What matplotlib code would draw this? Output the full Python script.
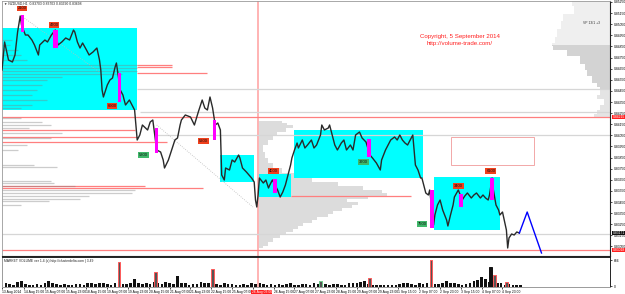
import matplotlib
matplotlib.use("Agg")
import matplotlib.pyplot as plt
import matplotlib.transforms as mtransforms
from matplotlib.patches import Rectangle

plt.rcParams["font.family"] = ["Liberation Sans", "DejaVu Sans"]

# H1 price path, hour index from 13 Aug 2014 23:00
hours = [0, 2, 5, 8, 10, 12, 14, 15, 18, 20, 23, 25, 28, 29, 33, 35, 38, 41, 43, 46,
         49, 52, 55, 56, 58, 60, 62, 65, 67, 70, 73, 75, 76, 77, 78, 81, 83, 85, 87, 88,
         91, 93, 95, 98, 100, 102, 104, 106, 108, 112, 114, 116, 119, 122, 124, 125, 128, 131, 133, 135,
         137, 138, 141, 145, 148, 151, 154, 156, 158, 160, 162, 164, 166, 168, 169, 171, 172, 175, 177, 179,
         182, 183, 185, 188, 190, 192, 194, 195, 196, 197, 198, 201, 203, 205, 206, 208, 212, 214, 216, 218,
         220, 222, 223, 225, 227, 228, 231, 233, 235, 238, 240, 242, 245, 246, 248, 251, 252, 254, 256, 258,
         261, 263, 265, 268, 270, 272, 275, 277, 280, 283, 285, 288, 291, 292, 295, 297, 299, 302, 304, 306,
         308, 310, 312, 314, 316, 317, 318, 320, 322, 323, 325, 326, 328, 329, 332, 333, 335, 337, 339, 342,
         343, 345, 347, 348, 351, 354, 356, 358, 361, 363, 365, 368, 370, 372, 374, 375, 377, 378, 380, 382,
         383, 385, 386, 388, 389, 390, 392, 394, 396, 398]
closes = [0.84638, 0.84890, 0.84728, 0.84710, 0.84773, 0.84980, 0.85124, 0.85043, 0.84953, 0.84953,
          0.84908, 0.84863, 0.84773, 0.84863, 0.84908, 0.84890, 0.84953, 0.84998, 0.84863, 0.84890,
          0.84926, 0.84908, 0.84998, 0.84980, 0.84890, 0.84836, 0.84881, 0.84818, 0.84773, 0.84800,
          0.84836, 0.84728, 0.84638, 0.84458, 0.84395, 0.84503, 0.84548, 0.84566, 0.84665, 0.84701,
          0.84458, 0.84413, 0.84323, 0.84368, 0.84323, 0.84278, 0.84008, 0.84053, 0.84143, 0.84098,
          0.84170, 0.84188, 0.83918, 0.83900, 0.83828, 0.83756, 0.83828, 0.83936, 0.84008, 0.84026,
          0.84143, 0.84188, 0.84233, 0.84215, 0.84143, 0.84260, 0.84368, 0.84296, 0.84278, 0.84395,
          0.84296, 0.84143, 0.84161, 0.84098, 0.83693, 0.83648, 0.83756, 0.83738, 0.83828, 0.83810,
          0.83873, 0.83846, 0.83756, 0.83720, 0.83693, 0.83666, 0.83630, 0.83468, 0.83405, 0.83513,
          0.83666, 0.83621, 0.83648, 0.83576, 0.83603, 0.83648, 0.83558, 0.83495, 0.83540, 0.83603,
          0.83693, 0.83783, 0.83846, 0.83918, 0.83981, 0.83936, 0.84008, 0.83936, 0.83963, 0.84008,
          0.83936, 0.83963, 0.84053, 0.84143, 0.84098, 0.84116, 0.84143, 0.84053, 0.83963, 0.83918,
          0.83981, 0.84008, 0.83918, 0.83963, 0.83918, 0.84053, 0.84080, 0.84026, 0.83990, 0.83873,
          0.83846, 0.83801, 0.83738, 0.83828, 0.83918, 0.83963, 0.84008, 0.84035, 0.84008, 0.84053,
          0.84008, 0.83981, 0.83963, 0.84008, 0.84053, 0.83918, 0.83783, 0.83738, 0.83666, 0.83666,
          0.83576, 0.83531, 0.83513, 0.83558, 0.83243, 0.83333, 0.83423, 0.83468, 0.83378, 0.83288,
          0.83234, 0.83333, 0.83423, 0.83495, 0.83558, 0.83468, 0.83504, 0.83531, 0.83486, 0.83513,
          0.83531, 0.83486, 0.83513, 0.83486, 0.83468, 0.83513, 0.83666, 0.83558, 0.83423, 0.83378,
          0.83333, 0.83360, 0.83306, 0.83198, 0.83036, 0.83126, 0.83162, 0.83153, 0.83180, 0.83171]

# blue projection
proj_hours = [398, 404, 415]
proj_prices = [0.83171, 0.83360, 0.82991]

# cyan zones
zone_start = [0, 168, 196, 225, 332]
zone_end = [104, 194, 222, 324, 383]
zone_top = [0.85016, 0.83873, 0.83702, 0.84098, 0.83675]
zone_bottom = [0.84278, 0.83630, 0.83495, 0.83666, 0.83198]

# magenta high volume candles
spike_start = [14.6, 39, 89, 117.7, 162, 208.5, 281, 329, 351.5, 375.4]
spike_end = [17, 43, 91.5, 120, 164.6, 211.5, 284, 332, 354.6, 378.5]
spike_top = [0.85133, 0.84998, 0.84611, 0.84116, 0.84188, 0.83657, 0.84017, 0.83558, 0.83522, 0.83666]
spike_bottom = [0.84980, 0.84836, 0.84350, 0.83891, 0.84008, 0.83531, 0.83855, 0.83216, 0.83405, 0.83468]

# volume tags
tag_hours = [15.4, 40, 84.6, 109, 155, 209, 278, 323, 351, 376]
tag_prices = [0.85192, 0.85043, 0.84314, 0.83873, 0.83999, 0.83729, 0.83810, 0.83252, 0.83594, 0.83729]
tag_text = ["2100", "4700", "6900", "5300", "5200", "4000", "3700", "7500", "3400", "6100"]
tag_kind = ["sell", "sell", "sell", "buy", "sell", "sell", "buy", "buy", "sell", "sell"]

# horizontal levels
level_price = [0.84215, 0.83018, 0.84683, 0.84665, 0.84611, 0.84098, 0.84035, 0.83990,
               0.83594, 0.83576, 0.83504, 0.84467, 0.84260, 0.84053, 0.83162]
level_start = [0, 0, 104, 104, 104, 0, 0, 0, 0, 0, 222, 104, 106, 119, 0]
level_end = [468, 468, 131, 131, 158, 102, 104, 127, 110, 155, 315, 468, 468, 468, 468]
level_kind = ["red"] * 11 + ["grey"] * 4

# volume profile, left block
vpl_price = [0.84908, 0.84863, 0.84818, 0.84773, 0.84728, 0.84683, 0.84656, 0.84629, 0.84602, 0.84575,
             0.84548, 0.84503, 0.84458, 0.84413, 0.84368, 0.84323, 0.84296, 0.84206, 0.84170, 0.84143,
             0.84116, 0.84071, 0.84026, 0.83963, 0.83918, 0.83783, 0.83765, 0.83639, 0.83621, 0.83594,
             0.83558, 0.83531, 0.83504, 0.83477, 0.83459, 0.83423]
vpl_len = [8, 6, 12, 15, 19, 104, 104, 104, 92, 46, 35, 31, 27, 23, 35, 23, 15, 15, 31, 38,
           21, 46, 38, 19, 12, 25, 42, 38, 40, 56, 102, 100, 67, 60, 36, 15]

# volume profile, right edge
vpr_price = [0.85259, 0.85241, 0.85178, 0.85115, 0.85043, 0.84971, 0.84908, 0.84863]
vpr_len = [29, 29, 28, 36, 38, 41, 42, 45]
vpc_price = [0.84863, 0.84854, 0.84791, 0.84728, 0.84665, 0.84611, 0.84548, 0.84503, 0.84467]
vpc_len = [45, 44, 33, 23, 19, 18, 14, 10, 8]
vpb_price = [0.84467, 0.84440, 0.84395, 0.84350, 0.84305, 0.84260, 0.84224, 0.84200]
vpb_len = [8, 8, 10, 5, 8, 10, 12, 0]

# volume profile, middle (from the marked bar)
vpm_price = [0.84179, 0.84152, 0.84125, 0.84098, 0.84071, 0.84035, 0.83990, 0.83936, 0.83873, 0.83828,
             0.83783, 0.83738, 0.83693, 0.83648, 0.83612, 0.83576, 0.83549, 0.83522, 0.83495, 0.83468,
             0.83441, 0.83414, 0.83387, 0.83360, 0.83333, 0.83306, 0.83279, 0.83252, 0.83225, 0.83198,
             0.83171, 0.83144, 0.83108, 0.83072, 0.83036]
vpm_len = [19, 23, 27, 22, 15, 12, 8, 4, 6, 8, 12, 19, 31, 42, 62, 81, 96, 100, 85, 69,
           77, 73, 65, 58, 54, 46, 42, 35, 31, 27, 22, 17, 12, 8, 4]

# market volume, 3-hour samples
vol_hours = list(range(0, 400, 3))
vol = [60, 90, 70, 45, 120, 155, 80, 60, 40, 70,
       55, 100, 150, 95, 70, 60, 85, 50, 40, 65,
       80, 60, 95, 100, 70, 110, 90, 70, 60, 100,
       130, 80, 75, 95, 205, 110, 80, 90, 70, 120,
       100, 80, 120, 95, 70, 280, 110, 90, 60, 85,
       70, 120, 100, 90, 60, 80, 55, 90, 75, 70,
       60, 50, 80, 55, 110, 70, 90, 85, 60, 75,
       55, 70, 60, 80, 90, 50, 60, 75, 70, 60,
       90, 85, 120, 75, 60, 80, 70, 50, 60, 100,
       110, 90, 130, 160, 80, 60, 45, 40, 50, 55,
       40, 60, 75, 95, 110, 80, 60, 100, 85, 90,
       120, 70, 80, 110, 150, 100, 90, 80, 60, 75,
       90, 150, 180, 240, 200, 120, 160, 110, 90, 60,
       80, 60, 50, 40]
big_hours = [90, 118, 162, 245, 283, 330, 376, 379, 388]
big_vol = [615, 385, 460, 150, 230, 666, 510, 305, 130]
big_edge = ["red", "red", "red", "green", "red", "red", "none", "red", "red"]

# date axis; the 25 Aug 23:00 slot is covered by the red cursor label
date_hours = [0] + list(range(17, 386, 16))
date_labels = ["13 Aug 2014", "14 Aug 15:00", "15 Aug 07:00", "15 Aug 23:00", "18 Aug 15:00",
               "19 Aug 07:00", "19 Aug 23:00", "20 Aug 15:00", "21 Aug 07:00", "21 Aug 23:00",
               "22 Aug 15:00", "25 Aug 07:00", "", "26 Aug 15:00", "27 Aug 07:00",
               "27 Aug 23:00", "28 Aug 15:00", "29 Aug 07:00", "29 Aug 23:00", "1 Sep 15:00",
               "2 Sep 07:00", "2 Sep 23:00", "3 Sep 15:00", "4 Sep 07:00", "4 Sep 23:00"]
cursor_label = "26 Aug 03:00"
price_ticks = [round(0.8525 - 0.001 * k, 4) for k in range(23)]

CYAN = "#00FFFF"
MAGENTA = "#FF00FF"
RED_LINE = "#FF7F7F"
GREY_LINE = "#D6D6D6"
TAG_BG = {"sell": "#F0401C", "buy": "#3FB86A"}
EDGE = {"red": "#FF5A5A", "green": "#6CCB8A", "none": "#111111"}
X_MAX = 467.7
V_LINE = 197
SMALL = 2.4

fig = plt.figure(figsize=(6.25, 2.94), dpi=100)
fig.patch.set_facecolor("white")
ax = fig.add_axes([2 / 625, 1 - 256 / 294, 608 / 625, 255 / 294])
axv = fig.add_axes([2 / 625, 1 - 287 / 294, 608 / 625, 30 / 294])

# --- price panel ---
ax.set_xlim(0, X_MAX)
ax.set_ylim(0.82964, 0.85259)

for s, e, t, b in zip(zone_start, zone_end, zone_top, zone_bottom):
    ax.add_patch(Rectangle((s, b), e - s, t - b, facecolor=CYAN, edgecolor="none", zorder=1))

# right-edge profile
ax.fill_betweenx(vpr_price, [X_MAX - v for v in vpr_len], X_MAX, step="mid", color="#EFEFEF", lw=0, zorder=0.5)
ax.fill_betweenx(vpc_price, [X_MAX - v for v in vpc_len], X_MAX, step="mid", color="#D3D3D3", lw=0, zorder=0.5)
ax.fill_betweenx(vpb_price, [X_MAX - v for v in vpb_len], X_MAX, step="mid", color="#E4E4E4", lw=0, zorder=0.5)
# middle profile
ax.fill_betweenx(vpm_price, V_LINE - 0.5, [V_LINE - 0.5 + v for v in vpm_len], step="mid",
                 color="#DCDCDC", lw=0, zorder=0.6)

for p, s, e, k in zip(level_price, level_start, level_end, level_kind):
    ax.hlines(p, s, e, color=RED_LINE if k == "red" else GREY_LINE, lw=0.9, zorder=1.5)

# left profile lines
ax.hlines(vpl_price, 0, vpl_len, color="#808080", alpha=0.4, lw=0.9, zorder=2)

ax.axvline(V_LINE, color="#FFB3B3", lw=1.4, zorder=1.2)

# dotted trend guides
ax.plot([16, 75], [0.85115, 0.84620], color="#BBBBBB", lw=0.6, ls=":", zorder=1.6)
ax.plot([119, 193], [0.84143, 0.83405], color="#BBBBBB", lw=0.6, ls=":", zorder=1.6)

ax.add_patch(Rectangle((345.4, 0.83783), 63.8, 0.00252, facecolor="none", edgecolor="#F2A8A8", lw=0.7, zorder=2))

ax.plot(hours, closes, color="#2A2A2A", lw=1.0, zorder=3)
for s, e, t, b in zip(spike_start, spike_end, spike_top, spike_bottom):
    ax.add_patch(Rectangle((s, b), e - s, t - b, facecolor=MAGENTA, edgecolor="none", zorder=4))
ax.plot(proj_hours, proj_prices, color="#0000FF", lw=1.0, zorder=4)

for h, p, t, k in zip(tag_hours, tag_prices, tag_text, tag_kind):
    ax.text(h, p, t, fontsize=3.0, ha="center", va="center", color="#111111", zorder=5,
            bbox=dict(boxstyle="square,pad=0.2", fc=TAG_BG[k], ec="none"))

ax.text(352, 0.84935, "Copyright, 5 September 2014", color="#FF2020", fontsize=4.4, ha="center", va="center")
ax.text(352, 0.84880, "http://volume-trade.com/", color="#FF2020", fontsize=4.4, ha="center", va="center")
ax.text(447, 0.85061, "VP 13/1 +3", fontsize=SMALL, ha="left", va="center", color="#333333")

ax.yaxis.tick_right()
ax.set_yticks(price_ticks)
ax.set_yticklabels([f"{t:.5f}" for t in price_ticks])
ax.tick_params(axis="y", labelsize=SMALL, length=1.5, width=0.5, pad=1)
ax.set_xticks([])
for side in ["left", "top"]:
    ax.spines[side].set_color("#9A9A9A")
    ax.spines[side].set_linewidth(0.6)
for side in ["right", "bottom"]:
    ax.spines[side].set_color("#222222")
    ax.spines[side].set_linewidth(0.8)

trans = mtransforms.blended_transform_factory(ax.transAxes, ax.transData)
for p, fc, tc in [(0.84215, "#FF2020", "white"), (0.83018, "#FF2020", "white"), (0.83171, "#111111", "white")]:
    ax.text(1.004, p, f"{p:.5f}", transform=trans, fontsize=SMALL, ha="left", va="center", color=tc,
            bbox=dict(boxstyle="square,pad=0.12", fc=fc, ec="none"), zorder=6, clip_on=False)

fig.text(4 / 625, 1 - 4 / 294, "\u25bc NZDUSD,H1  0.83703 0.83703 0.83690 0.83698", fontsize=SMALL,
         ha="left", va="center", color="#222222")

# --- volume panel ---
axv.set_xlim(0, X_MAX)
axv.set_ylim(0, 750)
axv.bar(vol_hours, vol, width=2.0, color="#111111", lw=0)
for h, v, e in zip(big_hours, big_vol, big_edge):
    axv.bar(h, v, width=2.2, color="#555555" if e != "none" else "#111111", edgecolor=EDGE[e], lw=0.7)
axv.axvline(V_LINE, color="#FFB3B3", lw=1.4)
axv.text(0.004, 0.86, "MARKET VOLUME ver 1.4 (c) http://clusterdelta.com | 3.49", transform=axv.transAxes,
         fontsize=SMALL, ha="left", va="center", color="#222222")
axv.yaxis.tick_right()
axv.set_yticks([20, 666])
axv.set_yticklabels(["0", "666"])
axv.tick_params(axis="y", labelsize=SMALL, length=1.5, width=0.5, pad=1)
axv.set_xticks(date_hours)
axv.set_xticklabels(date_labels, ha="left")
axv.tick_params(axis="x", labelsize=SMALL, length=1.5, width=0.5, pad=0.8)
for side in ["left", "top", "right", "bottom"]:
    axv.spines[side].set_color("#222222" if side in ("right", "top") else "#9A9A9A")
    axv.spines[side].set_linewidth(0.7)
axv.text(192, -0.1, cursor_label, transform=mtransforms.blended_transform_factory(axv.transData, axv.transAxes),
         fontsize=SMALL, ha="left", va="top", color="white",
         bbox=dict(boxstyle="square,pad=0.12", fc="#FF2020", ec="none"), clip_on=False)

fig.savefig("out.png", dpi=100, facecolor="white")
